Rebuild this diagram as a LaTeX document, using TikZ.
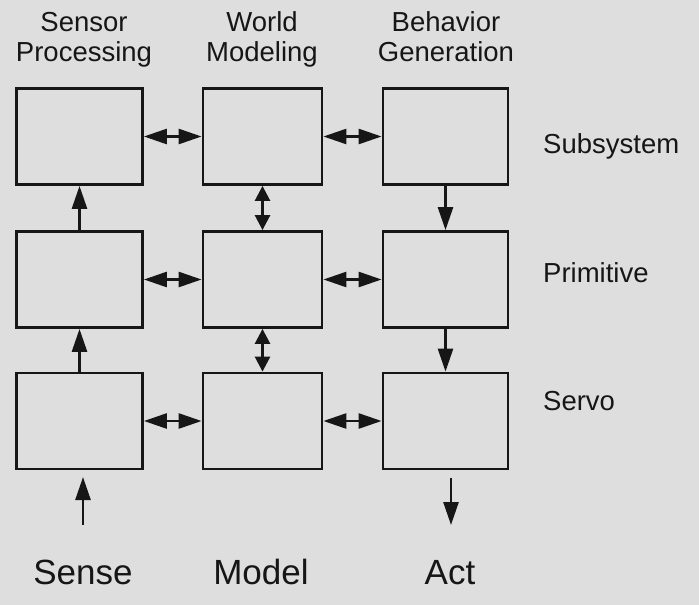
\documentclass[tikz,border=0pt]{standalone}
\usepackage{fontspec}
\setmainfont{Liberation Sans}
\usetikzlibrary{arrows.meta}

\definecolor{paper}{RGB}{222,222,222}
\definecolor{ink}{RGB}{22,22,22}

\begin{document}
\begin{tikzpicture}[x=1pt, y=-1pt,
    box/.style={draw=ink, line width=2.8pt, minimum height=96pt, inner sep=0pt},
    coltitle/.style={text=ink, align=center, anchor=base, inner sep=0pt,
        font=\fontsize{27.5}{30.5}\selectfont},
    rowlabel/.style={text=ink, anchor=base west, inner sep=0pt,
        font=\fontsize{27.5}{30.5}\selectfont},
    bottomlabel/.style={text=ink, anchor=base, inner sep=0pt,
        font=\fontsize{35}{40}\selectfont},
    onetip/.style={draw=ink, line width=2.6pt, -{Triangle[length=23pt, width=15pt]}},
    bothtips/.style={draw=ink, line width=2.6pt,
        {Triangle[length=23pt, width=15pt]}-{Triangle[length=23pt, width=15pt]}},
    shorttips/.style={draw=ink, line width=2.6pt,
        {Triangle[length=15pt, width=15pt]}-{Triangle[length=15pt, width=15pt]}}
]
    % Background
    \fill[paper] (0,0) rectangle (699,605);
    \useasboundingbox (0,0) rectangle (699,605);

    % Column titles
    \node[coltitle] (sptitle) at (84,61.5) {Sensor\\Processing};
    \node[coltitle] (wmtitle) at (262,61.5) {World\\Modeling};
    \node[coltitle] (bgtitle) at (446,61.5) {Behavior\\Generation};

    % Boxes: sp = sensor processing, wm = world modeling, bg = behavior generation
    \node[box, minimum width=126pt] (sp1) at (79.5,136.5) {};
    \node[box, minimum width=119pt] (wm1) at (262.5,136.5) {};
    \node[box, minimum width=125pt] (bg1) at (445.5,136.5) {};
    \node[box, minimum width=126pt] (sp2) at (79.5,279.5) {};
    \node[box, minimum width=119pt] (wm2) at (262.5,279.5) {};
    \node[box, minimum width=125pt] (bg2) at (445.5,279.5) {};
    \node[box, minimum width=126pt] (sp3) at (79.5,421) {};
    \node[box, minimum width=119pt] (wm3) at (262.5,421) {};
    \node[box, minimum width=125pt] (bg3) at (445.5,421) {};

    % Level names
    \node[rowlabel] (subsys) at (543,153) {Subsystem};
    \node[rowlabel] (prim) at (543,282) {Primitive};
    \node[rowlabel] (servo) at (543,410.5) {Servo};

    % Across each level
    \draw[bothtips] (sp1.east) -- (wm1.west);
    \draw[bothtips] (wm1.east) -- (bg1.west);
    \draw[bothtips] (sp2.east) -- (wm2.west);
    \draw[bothtips] (wm2.east) -- (bg2.west);
    \draw[bothtips] (sp3.east) -- (wm3.west);
    \draw[bothtips] (wm3.east) -- (bg3.west);

    % Between levels
    \draw[onetip] (sp3.north) -- (sp2.south);
    \draw[onetip] (sp2.north) -- (sp1.south);
    \draw[shorttips] (wm1.south) -- (wm2.north);
    \draw[shorttips] (wm2.south) -- (wm3.north);
    \draw[onetip] (bg1.south) -- (bg2.north);
    \draw[onetip] (bg2.south) -- (bg3.north);

    % Input and output
    \coordinate (sensein) at (83,525);
    \coordinate (senseend) at (83,477);
    \coordinate (actstart) at (451,478);
    \coordinate (actout) at (451,525);
    \draw[onetip] (sensein) -- (senseend);
    \draw[onetip] (actstart) -- (actout);

    % Bottom words
    \node[bottomlabel] (sense) at (83,584) {Sense};
    \node[bottomlabel] (model) at (261,584) {Model};
    \node[bottomlabel] (act) at (450,584) {Act};
\end{tikzpicture}
\end{document}
